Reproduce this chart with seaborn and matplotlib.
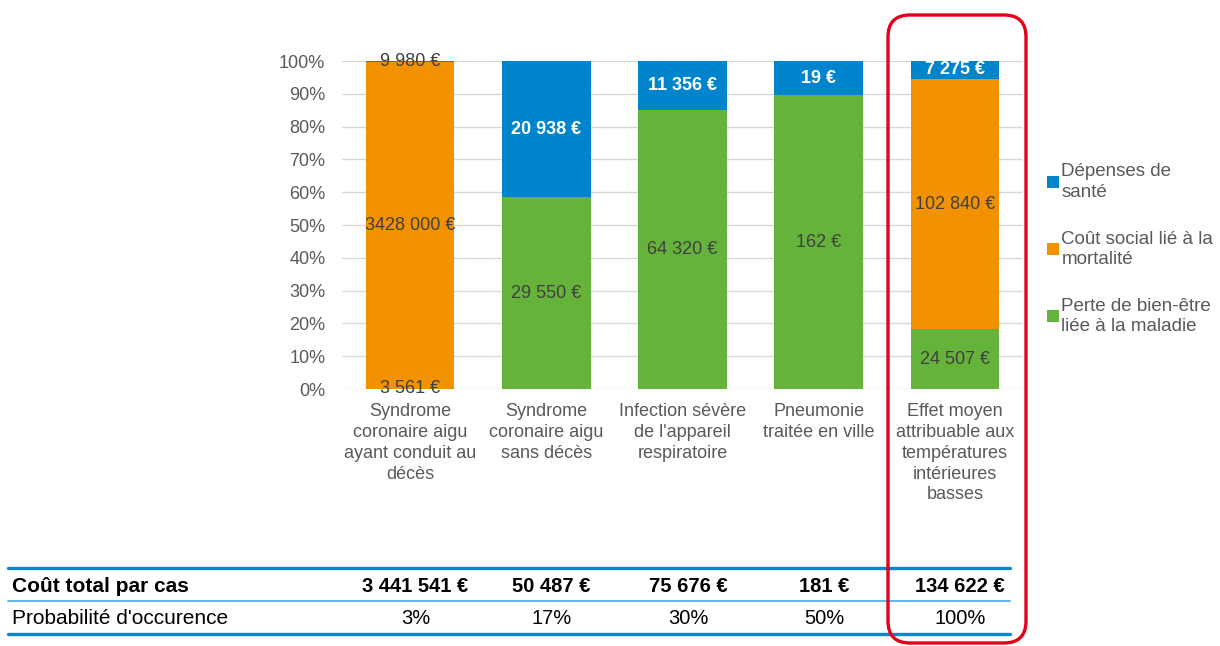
import matplotlib
matplotlib.use('Agg')
import matplotlib.pyplot as plt
import matplotlib.transforms as mtransforms
from matplotlib.patches import Patch, FancyBboxPatch
from matplotlib.lines import Line2D
import pandas as pd
import seaborn as sns


categories = ['Syndrome\ncoronaire aigu\nayant conduit au\ndécès',
              'Syndrome\ncoronaire aigu\nsans décès',
              'Infection sévère\nde l\'appareil\nrespiratoire',
              'Pneumonie\ntraitée en ville',
              'Effet moyen\nattribuable aux\ntempératures\nintérieures\nbasses']
sante = [9980, 20938, 11356, 19, 7275]
mortalite = [3428000, 0, 0, 0, 102840]
bien_etre = [3561, 29550, 64320, 162, 24507]
cout_total = ['3 441 541 €', '50 487 €', '75 676 €', '181 €', '134 622 €']
probabilite = ['3%', '17%', '30%', '50%', '100%']
mortalite_labels = ['3428 000 €', '', '', '', '102 840 €']

series_names = ['Dépenses de\nsanté', 'Coût social lié à la\nmortalité',
                'Perte de bien-être\nliée à la maladie']
colors = ['#0085CC', '#F39200', '#66B33B']

df = pd.DataFrame({'cat': categories, 'sante': sante,
                   'mortalite': mortalite, 'bien_etre': bien_etre})
total = df[['sante', 'mortalite', 'bien_etre']].sum(axis=1)
df['p_bien'] = df['bien_etre'] / total * 100
df['p_mort'] = df['mortalite'] / total * 100
df['p_sante'] = df['sante'] / total * 100
df['top_all'] = df['p_bien'] + df['p_mort'] + df['p_sante']
df['top_mort'] = df['p_bien'] + df['p_mort']

sns.set_theme(style='white')
plt.rcParams['font.family'] = ['Liberation Sans', 'DejaVu Sans']

fig = plt.figure(figsize=(12.2, 6.46), dpi=100)
ax = fig.add_axes([342 / 1220, 1 - 389 / 646, 681 / 1220, 328 / 646])

# stacked bars drawn as overlapping cumulative heights
for col, c, z in [('top_all', colors[0], 3), ('top_mort', colors[1], 4),
                  ('p_bien', colors[2], 5)]:
    sns.barplot(data=df, x='cat', y=col, color=c, width=0.65, saturation=1,
                linewidth=0, edgecolor='none', ax=ax, zorder=z)

ax.set_xlim(-0.5, 4.5)
ax.set_ylim(0, 100)
ax.set_yticks(range(0, 101, 10))
ax.set_yticklabels([f'{v}%' for v in range(0, 101, 10)])
ax.yaxis.grid(True, color='#D9D9D9', linewidth=1)
ax.set_axisbelow(True)
for s in ax.spines.values():
    s.set_visible(False)
ax.tick_params(axis='y', length=0, pad=12, labelsize=13, labelcolor='#595959')
ax.tick_params(axis='x', length=0, pad=10, labelsize=13, labelcolor='#595959')
ax.set_xlabel('')
ax.set_ylabel('')
for lab in ax.get_xticklabels():
    lab.set_linespacing(1.3)
    lab.set_verticalalignment('top')

# segment labels
dark = '#404040'
for i, row in df.iterrows():
    segs = [(row['p_bien'] / 2, bien_etre[i], dark, 'normal', True),
            (row['p_bien'] + row['p_mort'] / 2, mortalite[i], dark, 'normal', mortalite[i] > 0),
            (row['top_mort'] + row['p_sante'] / 2, sante[i],
             'white' if row['p_sante'] > 2 else dark,
             'bold' if row['p_sante'] > 2 else 'normal', True)]
    for j, (y, v, c, w, show) in enumerate(segs):
        if not show:
            continue
        if j == 1:
            txt = mortalite_labels[i]
        else:
            txt = f'{v:,}'.replace(',', ' ') + ' €'
        ax.text(i, y, txt, ha='center', va='center', fontsize=13,
                color=c, fontweight=w, zorder=10)

handles = [Patch(facecolor=c, edgecolor='none') for c in colors]
leg = fig.legend(handles, series_names, loc='upper left',
                 bbox_to_anchor=(1038 / 1220, 1 - 154 / 646), frameon=False,
                 borderpad=0, handlelength=0.6, handleheight=0.6,
                 handletextpad=0.15, labelspacing=1.6, fontsize=13.5)
for t in leg.get_texts():
    t.set_color('#595959')
    t.set_linespacing(1.25)

# table under the chart
px = fig.dpi_scale_trans
for y, lw, c in [(78, 2.4, '#0A86CC'), (45, 1.2, '#45A8DE'), (12, 2.4, '#0A86CC')]:
    fig.add_artist(Line2D([0.08, 10.1], [y / 100, y / 100], transform=px,
                          color=c, linewidth=lw))
blend = mtransforms.blended_transform_factory(ax.transData, fig.transFigure)
fig.text(12 / 1220, 60 / 646, 'Coût total par cas', fontsize=15,
         fontweight='bold', color='black', va='center')
fig.text(12 / 1220, 28 / 646, "Probabilité d'occurence", fontsize=15,
         color='black', va='center')
for i in range(len(categories)):
    ax.text(i + 0.04, 60 / 646, cout_total[i], transform=blend, ha='center',
            va='center', fontsize=14.5, fontweight='bold', color='black')
    ax.text(i + 0.04, 28 / 646, probabilite[i], transform=blend, ha='center',
            va='center', fontsize=14.5, color='black')

# red highlight around the last column
fig.add_artist(FancyBboxPatch((8.88, 0.03), 1.38, 6.28, transform=px,
                              boxstyle='round,pad=0,rounding_size=0.22',
                              fill=False, edgecolor='#E2001A', linewidth=2.4,
                              zorder=20))

fig.savefig('out.png', dpi=100)
